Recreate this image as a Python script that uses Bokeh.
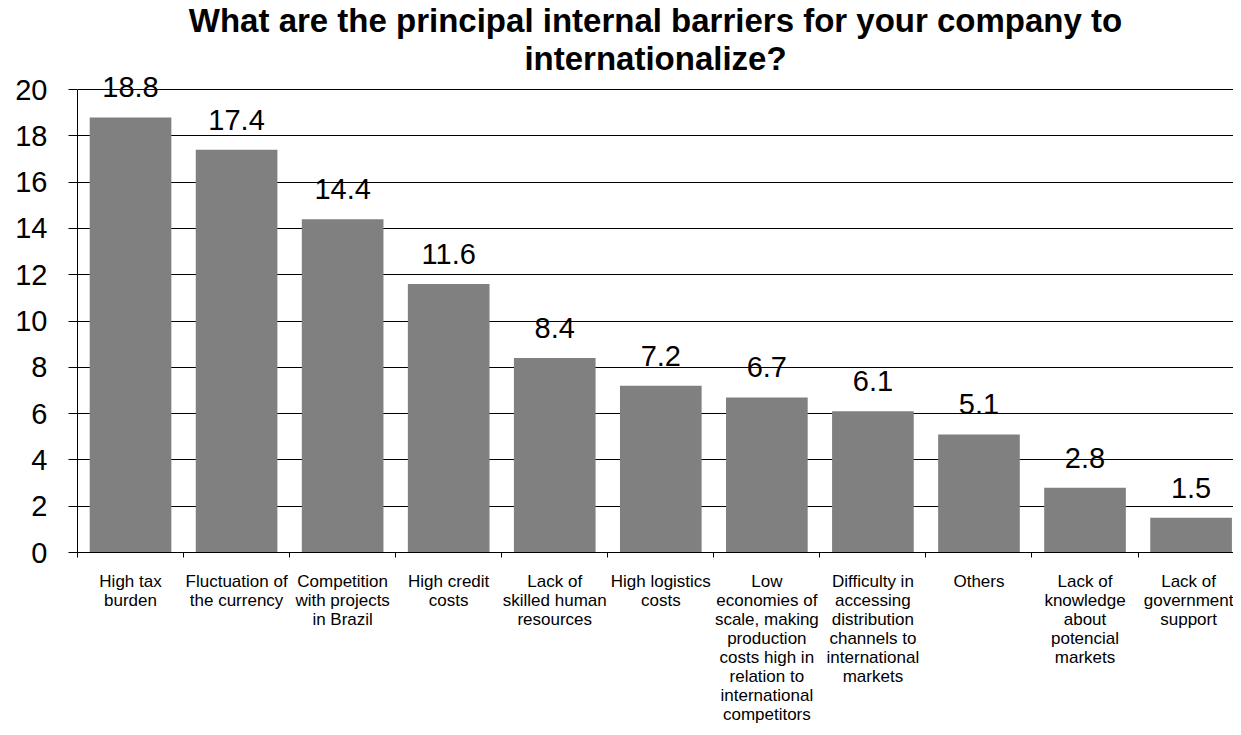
from bokeh.plotting import figure
from bokeh.models import (ColumnDataSource, Range1d, FixedTicker, LabelSet, Label)
from bokeh.core.properties import value
from bokeh.embed import file_html
from bokeh.resources import INLINE

categories = [
    "High tax\nburden",
    "Fluctuation of\nthe currency",
    "Competition\nwith projects\nin Brazil",
    "High credit\ncosts",
    "Lack of\nskilled human\nresources",
    "High logistics\ncosts",
    "Low\neconomies of\nscale, making\nproduction\ncosts high in\nrelation to\ninternational\ncompetitors",
    "Difficulty in\naccessing\ndistribution\nchannels to\ninternational\nmarkets",
    "Others",
    "Lack of\nknowledge\nabout\npotencial\nmarkets",
    "Lack of\ngovernment\nsupport",
]
values = [18.8, 17.4, 14.4, 11.6, 8.4, 7.2, 6.7, 6.1, 5.1, 2.8, 1.5]
y_ticks = [0, 2, 4, 6, 8, 10, 12, 14, 16, 18, 20]
title_line1 = "What are the principal internal barriers for your company to"
title_line2 = "internationalize?"

idx = list(range(len(categories)))
source = ColumnDataSource(dict(
    x=idx,
    top=values,
    label=["%.1f" % v for v in values],
))

FONT = "Liberation Sans"

# frame spans the full height above the x axis; the title lives in the
# empty headroom above the 20 gridline (axis/grid stop at 20)
X0, X1 = -0.5, 10.4
Y_TOP = 23.85

p = figure(
    width=1233, height=727,
    x_range=Range1d(X0, X1), y_range=Range1d(0, Y_TOP),
    output_backend="svg", toolbar_location=None, title_location=None,
    min_border_left=77, min_border_right=0, min_border_top=0, min_border_bottom=175,
)

p.outline_line_color = None
p.background_fill_color = "white"
p.border_fill_color = "white"

p.vbar(x="x", top="top", bottom=0, width=0.77, source=source,
       fill_color="#808080", line_color=None)

labels = LabelSet(x="x", y="top", text="label", source=source,
                  text_align="center", text_baseline="alphabetic", y_offset=20,
                  text_font=value(FONT), text_font_size=value("29px"),
                  text_color="black")
p.add_layout(labels)

xc = (X0 + X1) / 2
for txt, yy in ((title_line1, 23.0), (title_line2, 21.36)):
    p.add_layout(Label(x=xc, y=yy, text=txt, text_align="center",
                       text_baseline="alphabetic", text_font=FONT,
                       text_font_size="33px", text_font_style="bold",
                       text_color="black"))

# grid
p.xgrid.grid_line_color = None
p.ygrid.grid_line_color = "black"
p.ygrid.grid_line_width = 1
p.ygrid.ticker = FixedTicker(ticks=y_ticks)

# y axis
p.yaxis.ticker = FixedTicker(ticks=y_ticks)
p.yaxis.bounds = (0, 20)
p.yaxis.major_label_text_font = FONT
p.yaxis.major_label_text_font_size = "29px"
p.yaxis.major_label_text_color = "black"
p.yaxis.major_tick_out = 9
p.yaxis.major_tick_in = 0
p.yaxis.minor_tick_line_color = None
p.yaxis.major_label_standoff = 21
p.yaxis.axis_line_color = "black"
p.yaxis.major_tick_line_color = "black"

# x axis
p.xaxis.ticker = FixedTicker(ticks=idx, minor_ticks=[i - 0.5 for i in range(len(categories) + 1)])
p.xaxis.major_label_overrides = {i: c for i, c in enumerate(categories)}
p.xaxis.major_label_text_font = FONT
p.xaxis.major_label_text_font_size = "17px"
p.xaxis.major_label_text_color = "black"
p.xaxis.major_label_text_line_height = 1.0
p.xaxis.major_tick_out = 0
p.xaxis.major_tick_in = 0
p.xaxis.major_tick_line_color = None
p.xaxis.minor_tick_out = 5
p.xaxis.minor_tick_in = 0
p.xaxis.minor_tick_line_color = "black"
p.xaxis.major_label_standoff = 14
p.xaxis.axis_line_color = "black"

open("out.html", "w").write(file_html(p, INLINE))
